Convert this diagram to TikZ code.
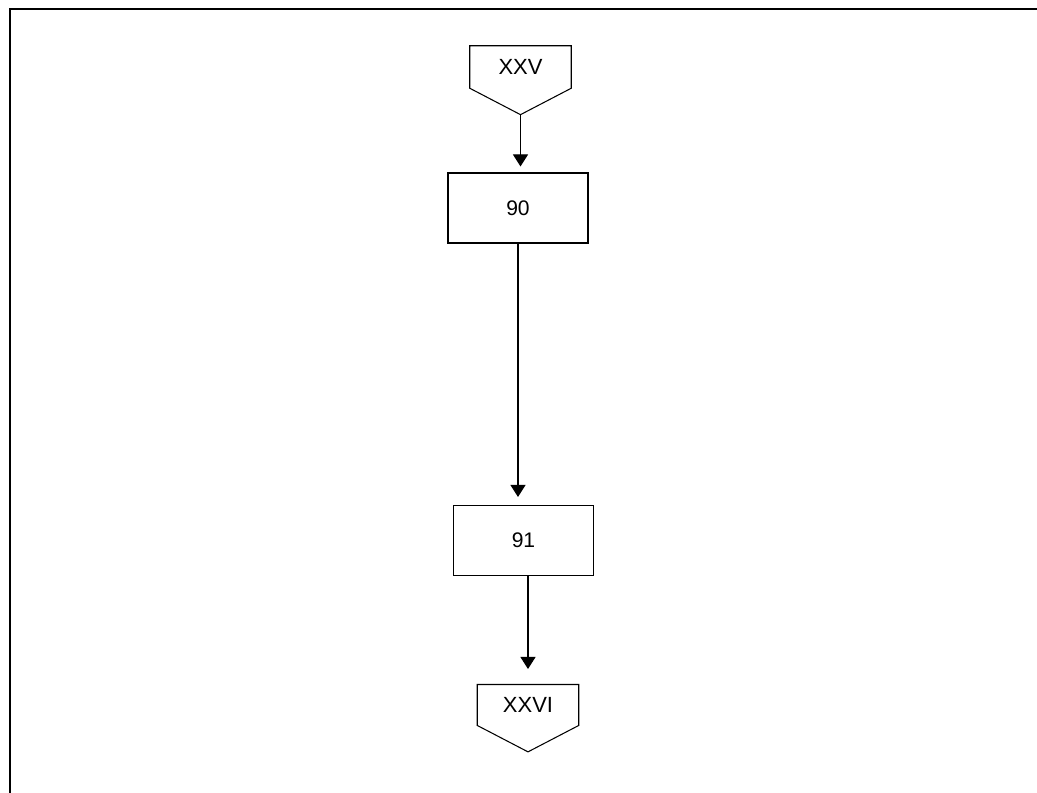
\documentclass[tikz,border=0pt]{standalone}
\usepackage{fontspec}
\setmainfont{Liberation Sans}
\usetikzlibrary{shapes.symbols,arrows.meta}

\begin{document}
\begin{tikzpicture}
  [every node/.style={draw=black,line width=0.6pt,font=\fontsize{12}{14}\selectfont},
   caja/.style={rectangle,minimum width=2.8cm,minimum height=1.4cm},
   conector/.style={signal,signal to=south,signal from=nowhere,signal pointer angle=125,
     minimum width=2.03cm,minimum height=1.14cm,font=\fontsize{12.5}{15}\selectfont},
   flujo/.style={draw=black,line width=0.6pt,-{Triangle[width=0.3cm,length=0.24cm]}}]
\useasboundingbox (0,0) rectangle (20.74,15.86);
% Marco de la hoja
  \draw[line width=0.8pt] (20.74,15.68) -- (0.2,15.68) -- (0.2,0);

% Conectores de pagina y actividades
  \node[conector] (xxv)  at (10.41,14.52) {XXV};
  \node[caja]     (b90)  at (10.36,11.70) {90};
  \node[caja]     (b91)  at (10.47,5.05)  {91};
  \node[conector] (xxvi) at (10.56,1.76)  {XXVI};

  % Flechas
  \draw[flujo,shorten >=0.12cm] (xxv.south) -- (xxv.south |- b90.north);
  \draw[flujo,shorten >=0.16cm] (b90.south) -- (b90.south |- b91.north);
  \draw[flujo,shorten >=0.3cm] (xxvi.north |- b91.south) -- (xxvi.north);
\end{tikzpicture}
\end{document}
